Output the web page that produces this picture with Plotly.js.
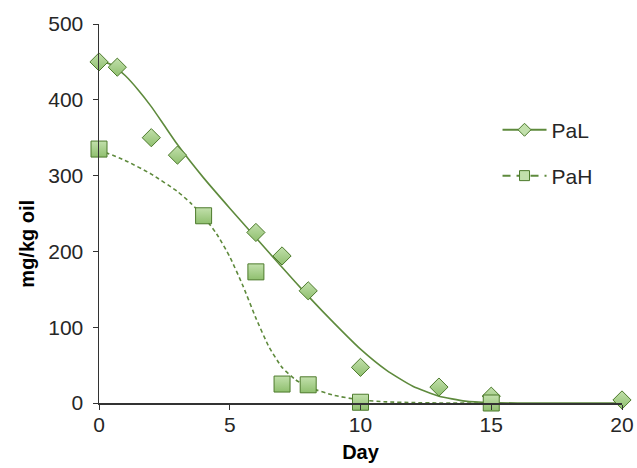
<!DOCTYPE html>
<html>
<head>
<meta charset="utf-8">
<script src="https://cdn.plot.ly/plotly-3.0.1.min.js"></script>
<style>html,body{margin:0;padding:0;background:#fff}#chart{width:637px;height:468px}</style>
</head>
<body>
<div id="chart"></div>
<script>
// Measured data
const palDay = [0, 0.7, 2, 3, 6, 7, 8, 10, 13, 15, 20];
const palVal = [450, 443, 350, 327, 225, 194, 148, 47, 21, 9, 4];
const pahDay = [0, 4, 6, 7, 8, 10, 15];
const pahVal = [335, 247, 173, 25, 24, 1, 0];
// Fitted curves
const palFitDay = [0, 0.5, 1, 1.5, 2, 2.5, 3, 4, 5, 6, 7, 8, 9, 10, 11, 12, 13, 14, 15, 16, 20];
const palFitVal = [452, 446, 432, 413, 391, 366, 341, 297, 257, 218, 179, 141, 105, 71, 43, 22, 9, 2.5, 0.5, 0, 0];
const pahFitDay = [0, 1, 2, 3, 3.5, 4, 4.5, 5, 5.5, 6, 6.5, 7, 7.5, 8, 9, 10, 11, 12, 13, 15];
const pahFitVal = [334, 320, 302, 279, 264, 246, 223, 193, 155, 112, 74, 47, 31, 21, 10, 4, 1.5, 0.5, 0, 0];
const names = ['PaL', 'PaH'];
const xTicks = [0, 5, 10, 15, 20];
const yTicks = [0, 100, 200, 300, 400, 500];
const xTitle = 'Day';
const yTitle = 'mg/kg oil';

const lineColor = '#5e8a3c';
const markFill = '#c2e0ac';
const markGrad = '#8fbf6e';
const markLine = '#4d7a2c';
const font = 'Liberation Sans, Arial, sans-serif';

const traces = [
  {x: palFitDay, y: palFitVal, mode: 'lines', line: {color: lineColor, width: 1.6, shape: 'spline', smoothing: 0.5}, showlegend: false, hoverinfo: 'skip'},
  {x: pahFitDay, y: pahFitVal, mode: 'lines', line: {color: lineColor, width: 1.6, dash: '4px,3px', shape: 'spline', smoothing: 0.5}, showlegend: false, hoverinfo: 'skip'},
  {x: palDay, y: palVal, mode: 'markers', cliponaxis: false, showlegend: false,
   marker: {symbol: 'diamond', size: 14, color: markFill, gradient: {type: 'vertical', color: markGrad}, line: {color: markLine, width: 1}}},
  {x: pahDay, y: pahVal, mode: 'markers', cliponaxis: false, showlegend: false,
   marker: {symbol: 'square', size: 16, color: markFill, gradient: {type: 'vertical', color: markGrad}, line: {color: markLine, width: 1}}},
  {x: [null], y: [null], name: names[0], mode: 'lines+markers', legend: 'legend',
   line: {color: lineColor, width: 2}, marker: {symbol: 'diamond', size: 10, color: markFill, line: {color: markLine, width: 1}}},
  {x: [null], y: [null], name: names[1], mode: 'lines+markers', legend: 'legend2',
   line: {color: lineColor, width: 2, dash: '8px,6px'}, marker: {symbol: 'square', size: 10, color: markFill, line: {color: markLine, width: 1}}}
];

const layout = {
  width: 637, height: 468,
  margin: {l: 99, r: 15, t: 24, b: 65},
  paper_bgcolor: '#fff', plot_bgcolor: '#fff',
  font: {family: font, size: 21, color: '#262626'},
  showlegend: true,
  xaxis: {
    range: [0, 20], tickvals: xTicks, ticktext: xTicks.map(String),
    showgrid: false, zeroline: false, showline: true, linecolor: '#333', linewidth: 1.5,
    ticks: 'outside', ticklen: 5, tickcolor: '#333', ticklabelstandoff: -3,
    title: {text: xTitle, font: {family: font, size: 20, color: '#000', weight: 'bold'}, standoff: 10}
  },
  yaxis: {
    range: [0, 500], tickvals: yTicks, ticktext: yTicks.map(String),
    showgrid: false, zeroline: false, showline: true, linecolor: '#333', linewidth: 1.5,
    ticks: 'outside', ticklen: 5, tickcolor: '#333', ticklabelstandoff: 5
  },
  annotations: [{
    text: yTitle, xref: 'paper', yref: 'paper', x: -0.138, y: 0.42,
    xanchor: 'center', yanchor: 'middle', textangle: -90, showarrow: false,
    font: {family: font, size: 20, color: '#000', weight: 'bold'}
  }],
  legend: {x: 0.762, y: 0.72, xanchor: 'left', yanchor: 'middle', bgcolor: 'rgba(0,0,0,0)', itemwidth: 44, font: {size: 21}},
  legend2: {x: 0.762, y: 0.599, xanchor: 'left', yanchor: 'middle', bgcolor: 'rgba(0,0,0,0)', itemwidth: 44, font: {size: 21}}
};

Plotly.newPlot('chart', traces, layout, {displayModeBar: false, staticPlot: true});
</script>
</body>
</html>
